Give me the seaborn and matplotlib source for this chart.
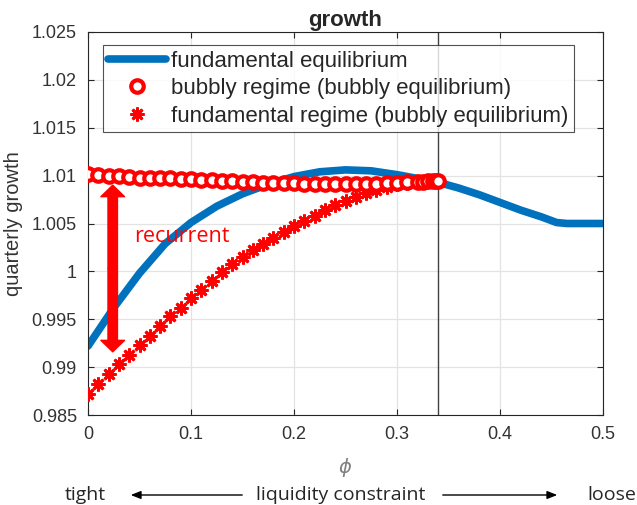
import numpy as np
import pandas as pd
import matplotlib
matplotlib.use("Agg")
import matplotlib.pyplot as plt
from matplotlib.lines import Line2D
import seaborn as sns

# ---------------- data ----------------
phi_fund = [0.0, 0.025, 0.05, 0.075, 0.1, 0.125, 0.15, 0.175, 0.2, 0.225, 0.25,
            0.275, 0.3, 0.32, 0.34, 0.36, 0.38, 0.40, 0.42, 0.44, 0.455, 0.465, 0.5]
growth_fund = [0.9922, 0.9962, 0.9998, 1.0029, 1.0051, 1.0068, 1.0081, 1.0091,
               1.0099, 1.0104, 1.0106, 1.0105, 1.0101, 1.0097, 1.0093, 1.0087,
               1.0080, 1.0072, 1.0064, 1.0057, 1.0051, 1.0050, 1.0050]

phi_regime = [0.00, 0.01, 0.02, 0.03, 0.04, 0.05, 0.06, 0.07, 0.08, 0.09, 0.10,
              0.11, 0.12, 0.13, 0.14, 0.15, 0.16, 0.17, 0.18, 0.19, 0.20, 0.21,
              0.22, 0.23, 0.24, 0.25, 0.26, 0.27, 0.28, 0.29, 0.30, 0.31, 0.32,
              0.325, 0.33, 0.335, 0.338, 0.34]
growth_bubbly = [1.0102, 1.0101, 1.0100, 1.0100, 1.0099, 1.0098, 1.0098, 1.0097,
                 1.0097, 1.0096, 1.0096, 1.0095, 1.0095, 1.0094, 1.0094, 1.0093,
                 1.0093, 1.0092, 1.0092, 1.0092, 1.0092, 1.0091, 1.0091, 1.0091,
                 1.0091, 1.0091, 1.0091, 1.0091, 1.0091, 1.0092, 1.0092, 1.0093,
                 1.0093, 1.0093, 1.0094, 1.0094, 1.0094, 1.0094]
growth_fregime = [0.9872, 0.9882, 0.9893, 0.9903, 0.9913, 0.9923, 0.9933, 0.9943,
                  0.9953, 0.9962, 0.9972, 0.9981, 0.9990, 0.9999, 1.0008, 1.0015,
                  1.0022, 1.0029, 1.0035, 1.0041, 1.0047, 1.0053, 1.0058, 1.0064,
                  1.0069, 1.0074, 1.0078, 1.0082, 1.0085, 1.0088, 1.0091, 1.0092,
                  1.0093, 1.0093, 1.0094, 1.0094, 1.0094, 1.0094]

threshold = 0.34
x_ticks = [0, 0.1, 0.2, 0.3, 0.4, 0.5]
x_ticklabels = ["0", "0.1", "0.2", "0.3", "0.4", "0.5"]
y_ticks = [0.985, 0.99, 0.995, 1.0, 1.005, 1.01, 1.015, 1.02, 1.025]
y_ticklabels = ["0.985", "0.99", "0.995", "1", "1.005", "1.01", "1.015", "1.02", "1.025"]
legend_labels = ["fundamental equilibrium",
                 "bubbly regime (bubbly equilibrium)",
                 "fundamental regime (bubbly equilibrium)"]
arrow_phi = 0.024
arrow_top, arrow_bottom = 1.0090, 0.9916

# ---------------- plot ----------------
sns.set_theme(style="white")
plt.rcParams["font.family"] = ["Liberation Sans", "DejaVu Sans"]

fig = plt.figure(figsize=(6.37, 5.05), dpi=100)
ax = fig.add_axes([88/637, 1-415/505, (603-88)/637, (415-32)/505])

blue = "#0072BD"
red = "#FF0000"
ast_marker = (8, 2, 0)
ast_kw = dict(markersize=10, markeredgewidth=2.0, color=red)

df_f = pd.DataFrame({"phi": phi_fund, "g": growth_fund})
df_r = pd.DataFrame({"phi": phi_regime, "b": growth_bubbly, "f": growth_fregime})

ax.axvline(threshold, color="#404040", lw=1.0, zorder=1.5)

sns.lineplot(data=df_f, x="phi", y="g", ax=ax, color=blue, linewidth=5.5,
             zorder=2, legend=False, solid_joinstyle="round")
ax.plot(df_r["phi"], df_r["f"], linestyle="none", marker=ast_marker, zorder=3, **ast_kw)
ax.plot(df_r["phi"], df_r["b"], linestyle="none", marker="o", markersize=9,
        markerfacecolor="white", markeredgewidth=3.0, markeredgecolor=red, zorder=4)

ax.set_xlim(0, 0.5)
ax.set_ylim(0.985, 1.025)
ax.set_xticks(x_ticks)
ax.set_xticklabels(x_ticklabels)
ax.set_yticks(y_ticks)
ax.set_yticklabels(y_ticklabels)
ax.tick_params(direction="in", length=4, width=0.8, color="#262626",
               labelsize=13, labelcolor="#333333", top=True, right=True,
               bottom=True, left=True, pad=8)
ax.grid(True, color="#e3e3e3", linewidth=0.9)
ax.set_axisbelow(True)
for s in ax.spines.values():
    s.set_color("#262626")
    s.set_linewidth(0.8)

ax.set_title("growth", fontsize=16, fontweight="bold", pad=4)
ax.set_ylabel("quarterly growth", fontsize=14.5, color="#333333", labelpad=6)
ax.set_xlabel(r"$\phi$", fontsize=14, color="#808080", labelpad=9)

handles = [
    Line2D([], [], color=blue, lw=5.5),
    Line2D([], [], linestyle="none", marker="o", markersize=9, markerfacecolor="white",
           markeredgewidth=3.0, markeredgecolor=red),
    Line2D([], [], linestyle="none", marker=ast_marker, **ast_kw),
]
leg = ax.legend(handles, legend_labels, loc="upper left", bbox_to_anchor=(0.029, 0.966),
                fontsize=16, frameon=True, fancybox=False, edgecolor="#262626",
                handlelength=2.6, handletextpad=0.2, borderpad=0.25, labelspacing=0.3,
                borderaxespad=0)
leg.get_frame().set_linewidth(0.8)

# recurrent arrow
mid = (arrow_top + arrow_bottom) / 2
for end in (arrow_top, arrow_bottom):
    ax.annotate("", xy=(arrow_phi, end), xytext=(arrow_phi, mid),
                arrowprops=dict(arrowstyle="simple,head_length=0.75,head_width=1.55,tail_width=0.62",
                                color=red, mutation_scale=11, shrinkA=0, shrinkB=0),
                zorder=5)
ax.text(0.045, 1.0036, "recurrent", color=red, fontsize=15.5,
        family=["Open Sans", "DejaVu Sans"], va="center", ha="left")

# bottom annotation
fy = 1 - 495/505
fig.text(85/637, fy, "tight", ha="center", va="center", fontsize=14,
         family=["Open Sans", "DejaVu Sans"])
fig.text(341/637, fy, "liquidity constraint", ha="center", va="center", fontsize=14,
         family=["Open Sans", "DejaVu Sans"])
fig.text(612/637, fy, "loose", ha="center", va="center", fontsize=14,
         family=["Open Sans", "DejaVu Sans"])
fig.add_artist(plt.Annotation("", xy=(128/637, fy), xytext=(245/637, fy),
                              xycoords="figure fraction", textcoords="figure fraction",
                              arrowprops=dict(arrowstyle="-|>,head_length=0.5,head_width=0.2",
                                              color="black", lw=1.0)))
fig.add_artist(plt.Annotation("", xy=(560/637, fy), xytext=(440/637, fy),
                              xycoords="figure fraction", textcoords="figure fraction",
                              arrowprops=dict(arrowstyle="-|>,head_length=0.5,head_width=0.2",
                                              color="black", lw=1.0)))

fig.savefig("out.png", dpi=100)
